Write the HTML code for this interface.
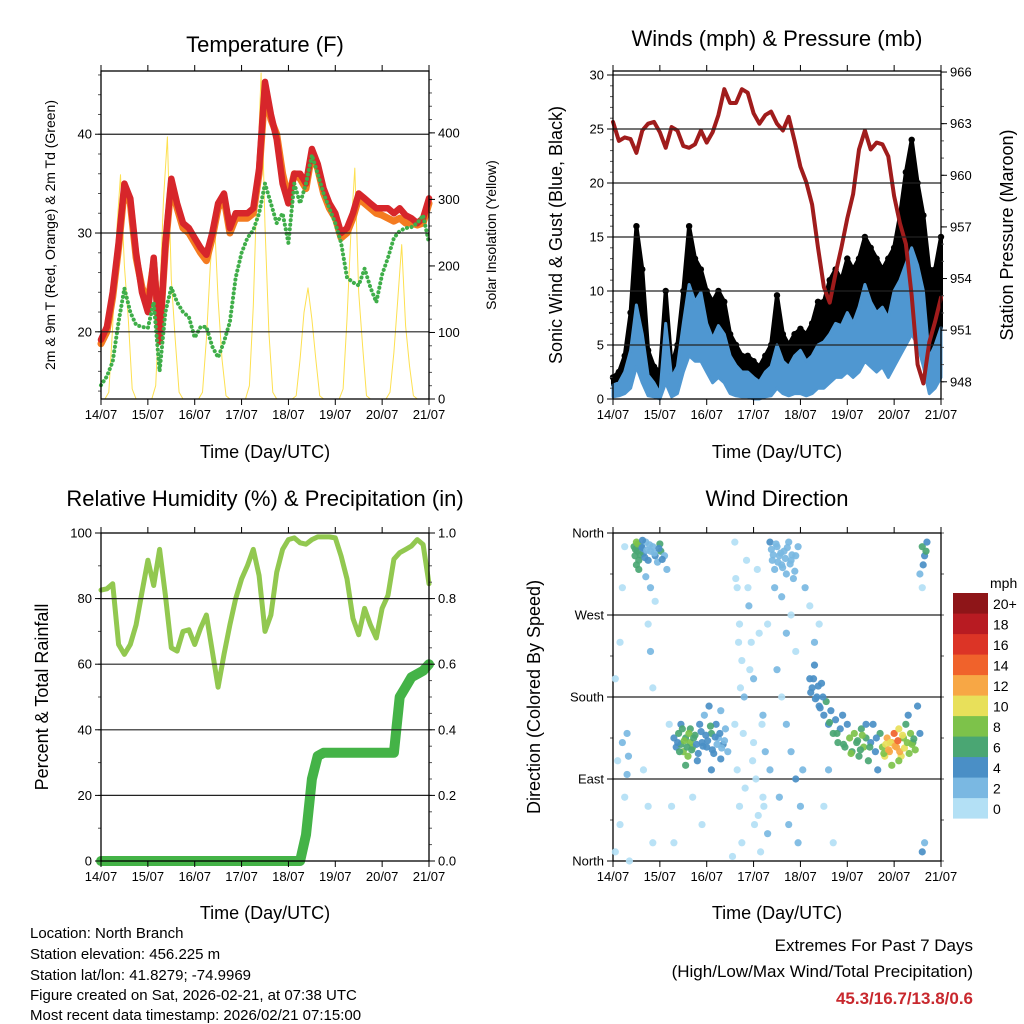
<!DOCTYPE html>
<html><head><meta charset="utf-8"><style>
html,body{margin:0;padding:0;background:#fff;}
svg{display:block;font-family:"Liberation Sans",sans-serif;}
</style></head><body>
<svg id="chart" xmlns="http://www.w3.org/2000/svg" width="1024" height="1024" viewBox="0 0 1024 1024">
<rect width="1024" height="1024" fill="#fff"/>
<text x="265" y="52" font-size="22" text-anchor="middle">Temperature (F)</text>
<text x="777" y="46" font-size="22" text-anchor="middle">Winds (mph) &amp; Pressure (mb)</text>
<text x="265" y="506" font-size="22" text-anchor="middle">Relative Humidity (%) &amp; Precipitation (in)</text>
<text x="777" y="506" font-size="22" text-anchor="middle">Wind Direction</text>
<text x="265" y="458" font-size="18" text-anchor="middle">Time (Day/UTC)</text>
<text x="777" y="458" font-size="18" text-anchor="middle">Time (Day/UTC)</text>
<text x="265" y="919" font-size="18" text-anchor="middle">Time (Day/UTC)</text>
<text x="777" y="919" font-size="18" text-anchor="middle">Time (Day/UTC)</text>
<text transform="translate(55,235) rotate(-90)" font-size="14" text-anchor="middle">2m &amp; 9m T (Red, Orange) &amp; 2m Td (Green)</text>
<text transform="translate(496,235) rotate(-90)" font-size="14" text-anchor="middle">Solar Insolation (Yellow)</text>
<text transform="translate(562,235) rotate(-90)" font-size="18" text-anchor="middle">Sonic Wind &amp; Gust (Blue, Black)</text>
<text transform="translate(1013,235) rotate(-90)" font-size="18" text-anchor="middle">Station Pressure (Maroon)</text>
<text transform="translate(48,697) rotate(-90)" font-size="18" text-anchor="middle">Percent &amp; Total Rainfall</text>
<text transform="translate(540,697) rotate(-90)" font-size="18" text-anchor="middle">Direction (Colored By Speed)</text>
<text x="990" y="588" font-size="14" text-anchor="start">mph</text>
<g font-size="15">
<text x="30" y="938">Location: North Branch</text>
<text x="30" y="959">Station elevation: 456.225 m</text>
<text x="30" y="980">Station lat/lon: 41.8279; -74.9969</text>
<text x="30" y="1000">Figure created on Sat, 2026-02-21, at 07:38 UTC</text>
<text x="30" y="1020">Most recent data timestamp: 2026/02/21 07:15:00</text>
</g>
<text x="973" y="951" font-size="17" text-anchor="end">Extremes For Past 7 Days</text>
<text x="973" y="977" font-size="17" text-anchor="end">(High/Low/Max Wind/Total Precipitation)</text>
<text x="973" y="1004" font-size="17" font-weight="bold" fill="#c8282e" text-anchor="end">45.3/16.7/13.8/0.6</text>
</svg>
<script>
// ---------- data ----------
var dayLabels = ["14/07","15/07","16/07","17/07","18/07","19/07","20/07","21/07"];
var tempRed = [19.2,20.5,24,29,35,33.5,28,24, 22,27.5,19,29,35.5,33,31,30.5, 29.5,28.5,27.8,30,33,34,30.5,32, 32,32,32.5,36.5,45.3,42,39.5,35, 33,36,36,35,38.5,37,34.5,33, 32,30,30.5,32,34,33.5,33,32.5, 32.5,32.5,32,32.5,31.8,31.5,31,31.5, 33.5];
var tempOrange = [18.8,20,23.5,28.5,34.5,33,27.5,24.5, 23,27,19.5,28.5,35,32.5,30.5,30, 29,28,27.2,29.5,32.5,33.5,30,31.5, 31.5,31.5,32,36,44.5,41.5,40,36, 33.5,36,35.5,34.5,38,36.5,34,32.5, 31.5,29.5,30,31.5,33.5,33,32.5,32, 31.8,31.5,31.2,31.5,31,31,30.8,31, 33];
var dewPoint = [14.6,15.5,17,21,24.4,22,20.7,20.5, 20.4,23,16,22,24.5,23,22,21.5, 19.4,20.5,20.5,18.5,17.4,19,21,25.5, 28,29.5,30.3,32,35,33,31,32, 29,35,33,35,37.9,36,34,32.5, 31,29,25.5,25,24.7,26.4,24.5,23, 25.8,27.5,29.5,30.2,30.5,30.6,31,31.8, 29];
var solar = [0,0,10,110,250,337,200,120,15,0,0,0, 0,0,20,150,300,394,180,90,10,0,0,0, 0,0,10,90,200,277,150,60,5,0,0,0, 0,0,20,140,330,490,260,100,10,0,0,0, 0,0,5,60,130,167,120,60,5,0,0,0, 0,0,15,120,250,347,160,80,5,0,0,0, 0,0,10,70,150,232,110,50,5,0,0,0, 0];
var windHi = [1.3,1.5,2.5,4.5,8.7,6,2.2,1.5, 0.5,7,2,3,7,10.6,9,9.9, 7,5.6,6.8,6,4,3.1,2.5,2.5, 2,1.6,2.5,3,5,3.5,3,4, 4.5,3.5,4,5,5.3,6,7,6.8, 8,7,8.5,10.6,9,8,8.5,7.5, 10,11,12.5,14,12.4,10,3.8,5, 6.6];
var windLo = [0.2,0.3,0.5,1,3,1.5,0.3,0.2, 0,1.5,0.2,0.5,2.5,4,3.5,3.5, 2.5,1.5,2,1.5,0.5,0.3,0.2,0.2, 0,0,0.2,0.3,1,0.5,0.3,0.5, 0.5,0.3,0.5,1,1,1.5,2,2, 2.5,2,2.5,3.5,3,2.5,3,2, 3,4,5,6,5,3,0.5,1, 2];
var gust = [2,2.5,4,8,16,12,4.5,3, 2.5,10,3,5,10,16,13,12, 10,9,10,9,6,5,4,4, 3.5,3,4,5,9.6,6,5,6, 6.5,6,7,9,9,11,12,11, 13,12,13,15,14,13,12,13, 14,17,21,24,20,17,12,12, 15];
var pressure = [963.1,962.0,962.2,962.1,961.3,962.6,963.0,963.1, 962.5,961.6,962.8,962.6,961.7,961.6,961.8,962.6, 961.9,962.5,963.5,965.0,964.2,964.2,965.0,964.8, 963.6,963.0,963.5,963.7,963.0,962.6,963.4,962.0, 960.5,959.6,958.3,955.8,953.5,952.6,954.3,955.8, 957.5,958.9,961.5,962.6,961.5,961.9,961.8,961.1, 958.8,957.2,956.0,953.0,949.0,947.9,950.3,951.5, 952.9];
var rh = [82.6,83,84.5,66,63,66,72,82, 91.7,84,95,81,65,64,70,70.5, 66,71,75,64,53,63,72,80, 86,90,95,87,70,75,88,95, 98,98.5,97,96.6,98,98.8,98.8,98.8, 98.5,93,86,74,69,77,72,68, 77,81,92,94,95,96,98,96.5, 84.5];
var precip = [0,0,0,0,0,0,0,0, 0,0,0,0,0,0,0,0, 0,0,0,0,0,0,0,0, 0,0,0,0,0,0,0,0, 0,0,0,0.08,0.25,0.32,0.33,0.33, 0.33,0.33,0.33,0.33,0.33,0.33,0.33,0.33, 0.33,0.33,0.33,0.5,0.53,0.56,0.57,0.58, 0.6];
var dirT = [0.45,0.47,0.5,0.52,0.55,0.5,0.6,0.65,0.7,0.75,0.8,0.85,0.9,0.95,1.0,1.02,1.1,1.15,0.7,0.8,0.9,0.25,0.2,0.15,0.05,0.1,0.2,0.3,0.33,0.3,0.25,0.15,0.05,0.35,0.75,0.8,0.85,0.65,0.75,0.85,
 1.3,1.35,1.4,1.45,1.5,1.55,1.6,1.65,1.7,1.75,1.8,1.85,1.9,1.95,2.0,2.05,2.1,2.15,2.2,2.25,2.3,2.35,2.4,2.45,1.55,1.65,1.45,2.1,2.3,1.2,1.25,1.3,1.7,1.9,
 2.6,2.65,2.7,2.75,2.8,2.6,2.65,2.7,2.75,2.85,2.9,2.95,3.0,3.0,3.05,3.1,3.15,3.2,3.25,3.2,3.3,3.35,3.3,2.55,
 3.35,3.4,3.45,3.5,3.55,3.6,3.65,3.7,3.75,3.8,3.85,3.9,3.95,3.45,3.6,3.7,3.8,3.9,3.5,3.6,3.7,3.8,3.9,3.55,3.75,3.95,4.0,4.05,
 4.2,4.25,4.3,4.35,4.4,4.45,4.5,4.55,4.6,4.65,4.7,4.75,4.8,4.85,4.9,4.95,5.0,5.05,5.1,5.15,5.2,5.25,5.3,5.35,5.4,5.45,5.5,5.55,5.6,5.65,5.7,5.75,5.8,5.85,5.9,5.95,6.0,6.05,6.1,6.15,6.2,6.25,6.3,6.35,6.4,6.1,5.95,5.4,4.3,4.4,4.6,4.5,4.7,4.1,4.2,
 6.6,6.65,6.7,6.62,6.68,6.55,6.6,6.65,6.6,6.5,6.55,
 0.48,0.53,0.58,0.62,0.68,0.72,0.78,0.88,0.98,1.05,0.55,0.63,
 1.38,1.42,1.48,1.52,1.58,1.62,1.68,1.72,1.78,1.82,1.88,1.92,1.98,2.02,2.08,2.12,2.18,2.22,2.28,2.32,2.38,
 2.62,2.68,2.72,2.78,2.82,2.88,2.92,2.98,3.02,3.08,3.12,3.18,3.22,
 3.38,3.42,3.48,3.52,3.58,3.62,3.68,3.72,3.78,3.82,3.88,
 4.22,4.28,4.32,4.38,4.42,4.48,4.62,4.78,4.92,5.08,5.22,5.28,5.32,5.48,5.62,5.78,5.82,5.88,5.92,6.02,6.08,6.12,6.18,6.22,6.28,6.32,6.38,6.42,6.45];
var dirD = [345,335,350,340,330,325,345,338,350,330,340,345,335,328,348,340,335,320,312,300,285,345,300,240,200,110,130,140,115,95,70,40,10,0,260,230,190,100,60,20,
 135,125,140,128,120,135,115,145,125,138,110,150,130,160,125,170,140,118,150,135,165,128,145,120,105,130,150,100,112,150,60,20,70,40,
 350,300,260,220,180,150,100,60,20,330,280,240,200,130,90,50,10,160,120,70,30,100,260,5,
 350,330,320,345,335,325,340,315,350,330,310,335,345,300,290,250,270,230,210,180,150,120,90,70,40,20,60,100,
 200,190,215,180,170,195,160,175,150,165,140,155,130,145,160,125,150,135,120,140,130,115,145,125,135,110,130,150,120,100,140,125,115,135,120,130,140,125,145,115,135,150,160,140,130,110,105,150,240,260,100,60,20,300,280,
 345,335,350,325,340,315,300,20,10,170,140,
 342,348,336,344,333,341,347,338,343,331,320,352,
 130,120,145,132,125,140,122,135,128,118,142,126,138,132,148,122,136,128,140,124,132,
 310,240,190,140,80,300,210,110,40,320,250,150,60,
 342,336,348,328,338,322,332,344,326,336,318,
 185,200,178,192,168,180,152,140,128,118,132,122,138,125,135,118,128,122,130,126,132,120,138,124,130,118,128,134,122];
var dirS = [6,7,8,7,6,6,4,4,3,4,2,3,4,3,6,6,2,2,2,2,1,1,1,1,1,1,2,3,3,2,1,1,0,0,1,2,1,1,0,1,
 4,4,6,7,8,6,8,6,8,7,4,4,4,3,4,4,6,4,4,3,2,4,2,3,6,8,5,4,4,1,1,1,1,1,
 1,1,1,1,2,1,1,1,0,1,2,1,2,1,1,1,0,2,2,1,2,2,1,0,
 4,3,2,3,2,2,3,2,3,2,2,3,2,2,2,2,1,1,2,1,2,2,4,2,3,3,2,3,
 4,4,4,4,5,4,4,6,5,4,6,4,6,5,4,6,4,8,7,8,7,6,7,8,6,6,4,4,4,4,7,9,10,12,13,12,14,12,11,10,8,7,5,9,7,9,9,4,2,1,2,1,1,2,1,
 6,4,5,4,6,2,1,2,4,4,4,
 7,8,6,4,4,3,3,2,4,5,6,4,
 4,6,7,8,6,8,7,6,4,4,5,4,4,4,6,4,4,3,4,3,2,
 1,1,1,1,1,1,1,1,1,1,1,1,1,
 3,3,2,3,2,2,3,2,3,2,2,
 4,4,4,5,4,5,6,6,7,8,6,7,8,6,4,8,10,12,11,13,14,12,10,11,9,8,8,7,9];
var cbLabels = ["0","2","4","6","8","10","12","14","16","18","20+"];
var cbColors = ["#b3e0f5","#7ab8e2","#4a8fc6","#4aa673","#7dc24a","#e8e05a","#f7a745","#f0622b","#dc3426","#b81b22","#8e1518"];

// ---------- helpers ----------
var NS = "http://www.w3.org/2000/svg";
var svg = document.getElementById("chart");
function mk(tag, attrs, parent){
  var el = document.createElementNS(NS, tag);
  for (var k in attrs) el.setAttribute(k, attrs[k]);
  (parent || svg).appendChild(el);
  return el;
}
var W = 328, H = 328, DAYS = 7;
function xs(p, t){ return p.x0 + t / DAYS * W; }
function ys(p, v, lo, hi){ return p.y0 + H - (v - lo) / (hi - lo) * H; }
function stepT(i, n){ return i * DAYS / (n - 1); }

var P1 = {x0:101, y0:71}, P2 = {x0:613, y0:71}, P3 = {x0:101, y0:533}, P4 = {x0:613, y0:533};
var T_LO = 13.2, T_HI = 46.4, S_LO = 0, S_HI = 493;
var W_LO = 0, W_HI = 30.37, PR_LO = 947.0, PR_HI = 966.06;
var R_LO = 0, R_HI = 100, D_LO = 0, D_HI = 360;

function gridAndAxes(p, name, left, right, grid){
  var g = mk("g", {});
  
  
  grid.forEach(function(v){
    var y = ys(p, v, left.lo, left.hi);
    var ln = mk("line", {x1:p.x0, x2:p.x0+W, y1:y, y2:y, stroke:"#222", "stroke-width":1.2}, g);
    
    
  });
  for (var d = 0; d <= DAYS; d++){
    var x = xs(p, d);
    mk("line", {x1:x, x2:x, y1:p.y0+H, y2:p.y0+H+6, stroke:"#000", "stroke-width":1}, g);
    mk("line", {x1:x, x2:x, y1:p.y0, y2:p.y0-6, stroke:"#000", "stroke-width":1}, g);
    var tl = mk("text", {x:x, y:p.y0+H+20, "font-size":13, "text-anchor":"middle"}, g);
    tl.textContent = dayLabels[d];
    
    
  }
  [left, right].forEach(function(ax, side){
    if (!ax) return;
    var xe = side === 0 ? p.x0 : p.x0 + W, dir = side === 0 ? -1 : 1;
    for (var v = ax.minStart; v <= ax.hi + 1e-9; v += ax.minor){
      var y = ys(p, v, ax.lo, ax.hi);
      if (y < p.y0 - 0.5 || y > p.y0 + H + 0.5) continue;
      mk("line", {x1:xe, x2:xe + dir*3, y1:y, y2:y, stroke:"#555", "stroke-width":1}, g);
    }
    ax.ticks.forEach(function(v, i){
      var y = ys(p, v, ax.lo, ax.hi);
      mk("line", {x1:xe, x2:xe + dir*6, y1:y, y2:y, stroke:"#000", "stroke-width":1}, g);
      var lt = mk("text", {x:xe + dir*9, y:y+4.5, "font-size":13, "text-anchor": side === 0 ? "end" : "start"}, g);
      lt.textContent = ax.labels[i];
      
      
    });
  });
  var fr = mk("rect", {x:p.x0, y:p.y0, width:W, height:H, fill:"none", stroke:"#000", "stroke-width":1.3});
  
  
}
function line(p, arr, lo, hi, color, width, name, op){
  var pts = arr.map(function(v, i){ return xs(p, stepT(i, arr.length)).toFixed(1) + "," + ys(p, v, lo, hi).toFixed(1); }).join(" ");
  var el = mk("polyline", {points:pts, fill:"none", stroke:color, "stroke-width":width, "stroke-linejoin":"round", "stroke-linecap":"round", opacity: op || 1});
  
  
  return el;
}

// ---------- panel 1: temperature ----------
var clip1 = mk("clipPath", {id:"c1"}); mk("rect", {x:P1.x0, y:P1.y0, width:W, height:H}, clip1);
line(P1, solar, S_LO, S_HI, "#fde050", 1, "solar-insolation-line").setAttribute("clip-path", "url(#c1)");
line(P1, tempOrange, T_LO, T_HI, "#f47b20", 7, "temp-9m-line");
line(P1, tempRed, T_LO, T_HI, "#d7262b", 6.5, "temp-2m-line");
line(P1, dewPoint, T_LO, T_HI, "#3fae49", 4, "dewpoint-line").setAttribute("stroke-dasharray", "0.1 4.5");

// ---------- panel 2: winds ----------
var hiPts = windHi.map(function(v, i){ return xs(P2, stepT(i, windHi.length)).toFixed(1) + "," + ys(P2, v, W_LO, W_HI).toFixed(1); });
var gustPts = gust.map(function(v, i){ return xs(P2, stepT(i, gust.length)).toFixed(1) + "," + ys(P2, v, W_LO, W_HI).toFixed(1); });
var gustBand = mk("polygon", {points:gustPts.concat(hiPts.slice().reverse()).join(" "), fill:"#000", stroke:"#000", "stroke-width":4, "stroke-linejoin":"round"});


var windG = mk("g", {});


gust.forEach(function(v, i){
  var dot = mk("circle", {cx:xs(P2, stepT(i, gust.length)), cy:ys(P2, v, W_LO, W_HI), r:3.2, fill:"#000"}, windG);
  
  
});
var loPts = windLo.map(function(v, i){ return xs(P2, stepT(i, windLo.length)).toFixed(1) + "," + ys(P2, v, W_LO, W_HI).toFixed(1); });
var band = mk("polygon", {points:hiPts.concat(loPts.slice().reverse()).join(" "), fill:"#4f97d1", stroke:"#4f97d1", "stroke-width":3, "stroke-linejoin":"round"});


line(P2, pressure, PR_LO, PR_HI, "#a01c1c", 4, "pressure-line");

gridAndAxes(P1, "temp", {lo:T_LO, hi:T_HI, ticks:[20,30,40], labels:["20","30","40"], minor:2, minStart:14},
  {lo:S_LO, hi:S_HI, ticks:[0,100,200,300,400], labels:["0","100","200","300","400"], minor:20, minStart:0}, [20,30,40]);
gridAndAxes(P2, "wind", {lo:W_LO, hi:W_HI, ticks:[0,5,10,15,20,25,30], labels:["0","5","10","15","20","25","30"], minor:1, minStart:0},
  {lo:PR_LO, hi:PR_HI, ticks:[948,951,954,957,960,963,966], labels:["948","951","954","957","960","963","966"], minor:1, minStart:947}, [5,10,15,20,25,30]);

// ---------- panel 3: RH & precip ----------
line(P3, rh, R_LO, R_HI, "#92c850", 5, "relative-humidity-line");
line(P3, precip, 0, 1, "#44b347", 10, "precipitation-line");
gridAndAxes(P3, "rh", {lo:R_LO, hi:R_HI, ticks:[0,20,40,60,80,100], labels:["0","20","40","60","80","100"], minor:10, minStart:0},
  {lo:0, hi:1, ticks:[0,0.2,0.4,0.6,0.8,1.0], labels:["0.0","0.2","0.4","0.6","0.8","1.0"], minor:0.05, minStart:0}, [20,40,60,80]);

// ---------- panel 4: wind direction ----------
gridAndAxes(P4, "dir", {lo:D_LO, hi:D_HI, ticks:[0,90,180,270,360], labels:["North","East","South","West","North"], minor:45, minStart:0},
  {lo:D_LO, hi:D_HI, ticks:[], labels:[], minor:45, minStart:0}, [90,180,270]);
dirT.forEach(function(t, i){
  var ci = Math.min(10, Math.floor(dirS[i] / 2));
  var c = mk("circle", {cx:xs(P4, t), cy:ys(P4, dirD[i], D_LO, D_HI), r:3.6, fill:cbColors[ci], opacity:0.92});
  
  
});
cbColors.forEach(function(col, i){
  var y = 798 - i * 20.5;
  var r = mk("rect", {x:953, y:y, width:35, height:20.6, fill:col});
  
  
  var tx = mk("text", {x:993, y:y + 16, "font-size":14});
  tx.textContent = cbLabels[i];
  
  
});
</script>
</body></html>
